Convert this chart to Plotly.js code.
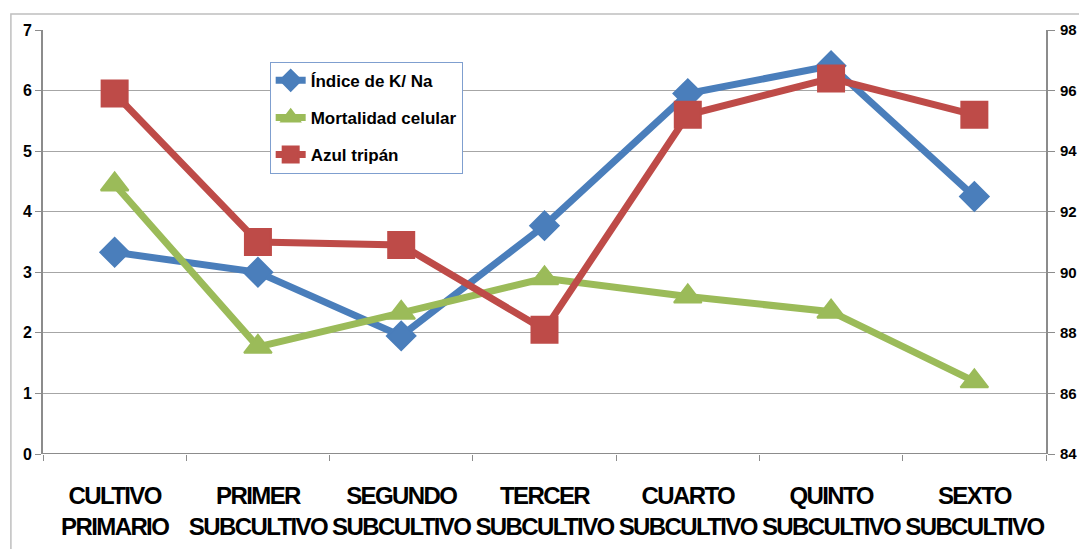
<!DOCTYPE html>
<html><head><meta charset="utf-8">
<script src="https://cdn.plot.ly/plotly-3.0.1.min.js"></script>
<style>body{margin:0;background:#fff}#c{width:1079px;height:549px}
.xtick text{letter-spacing:-1.6px}</style>
</head><body><div id="c"></div>
<script>
const categories = ["CULTIVO<br>PRIMARIO","PRIMER<br>SUBCULTIVO","SEGUNDO<br>SUBCULTIVO","TERCER<br>SUBCULTIVO","CUARTO<br>SUBCULTIVO","QUINTO<br>SUBCULTIVO","SEXTO<br>SUBCULTIVO"];
const indiceKNa = [3.33, 3.0, 1.95, 3.77, 5.95, 6.41, 4.25];
const mortalidad = [4.45, 1.77, 2.33, 2.9, 2.6, 2.35, 1.2];
const azulTripan = [95.9, 91.0, 90.9, 88.1, 95.2, 96.4, 95.2];
const leftTicks = [0,1,2,3,4,5,6,7];
const rightTicks = [84,86,88,90,92,94,96,98];

const narrow = "Liberation Sans Narrow, Arial Narrow, Liberation Sans, Arial, sans-serif";
const traces = [
  {x: categories, y: indiceKNa, name: "<b>Índice de K/ Na</b>", legendgroup: "a", type: "scatter", mode: "lines+markers",
   line: {color: "#4A7EBB", width: 7}, marker: {symbol: "diamond", size: 22, color: "#4A7EBB", line: {color: "#4A7EBB", width: 2}}},
  {x: categories, y: mortalidad, name: "<b>Mortalidad celular</b>", legendgroup: "b", type: "scatter", mode: "lines+markers",
   line: {color: "#9BBB59", width: 7}, marker: {symbol: "triangle-up", size: 24, color: "#9BBB59", line: {color: "#9BBB59", width: 2}}},
  {x: categories, y: azulTripan, name: "<b>Azul tripán</b>", legendgroup: "c", type: "scatter", mode: "lines+markers", yaxis: "y2",
   line: {color: "#BE4B48", width: 7}, marker: {symbol: "square", size: 26, color: "#BE4B48", line: {color: "#BE4B48", width: 2}}}
];
const layout = {
  width: 1079, height: 549,
  margin: {l: 43, r: 33, t: 30, b: 95},
  paper_bgcolor: "#fff", plot_bgcolor: "#fff",
  showlegend: true,
  legend: {x: 0.226, y: 0.925, xanchor: "left", yanchor: "top", bgcolor: "#fff",
           bordercolor: "#7F9FCF", borderwidth: 1, font: {family: narrow, size: 17, color: "#000"},
           tracegroupgap: 12, itemwidth: 30},
  xaxis: {type: "category", showgrid: false, showline: false, ticks: "outside", tickson: "boundaries",
          ticklen: 6, tickcolor: "#8C8C8C", tickwidth: 1, ticklabelstandoff: 25, tickangle: 0,
          tickfont: {family: narrow, size: 24, color: "#000"}, tickprefix: "<b>", ticksuffix: "</b>",
          range: [-0.5, 6.5]},
  yaxis: {range: [0, 7], tickvals: leftTicks, ticktext: leftTicks.map(v => "<b>" + v + "</b>"),
          showgrid: true, gridcolor: "#A6A6A6", gridwidth: 1, zeroline: false,
          showline: true, linecolor: "#8C8C8C", linewidth: 2, ticks: "outside", ticklen: 6, tickcolor: "#8C8C8C",
          tickfont: {family: "Liberation Sans, Arial, sans-serif", size: 16, color: "#000"}},
  yaxis2: {range: [84, 98], overlaying: "y", side: "right", tickvals: rightTicks,
          ticktext: rightTicks.map(v => "<b>" + v + "</b>"), showgrid: false, zeroline: false,
          showline: true, linecolor: "#8C8C8C", linewidth: 2, ticks: "outside", ticklen: 7, tickcolor: "#8C8C8C",
          ticklabelstandoff: 2,
          tickfont: {family: "Liberation Sans, Arial, sans-serif", size: 15, color: "#000"}},
  shapes: [
    {type: "line", xref: "paper", yref: "y", x0: 0, x1: 1, y0: 0, y1: 0, line: {color: "#8C8C8C", width: 2}},
    {type: "rect", xref: "paper", yref: "paper", x0: -0.032, x1: 1.1, y0: -0.3, y1: 1.038,
     line: {color: "#BFBFBF", width: 1.5}, layer: "below"}
  ]
};
Plotly.newPlot("c", traces, layout, {displayModeBar: false, staticPlot: true});
</script></body></html>
